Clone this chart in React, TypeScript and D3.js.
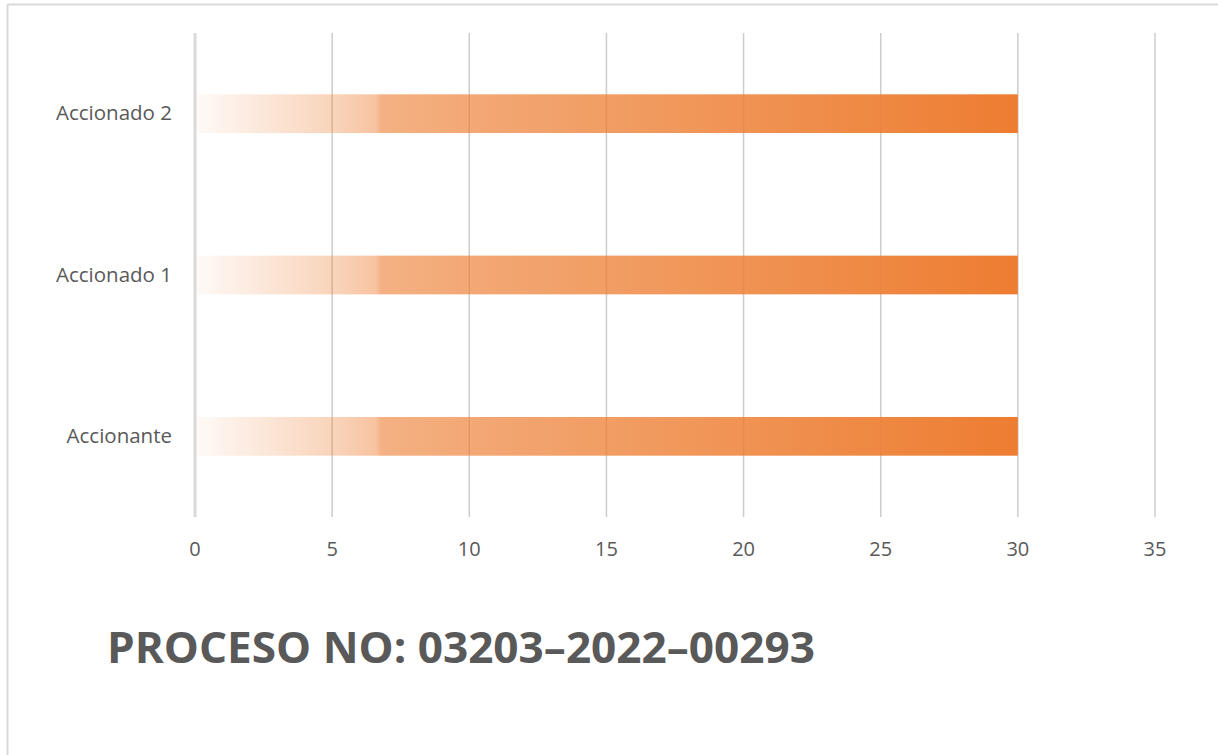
import React from "react";
import * as d3 from "d3";

const categories = ["Accionado 2", "Accionado 1", "Accionante"];
const values = [30, 30, 30];
const xTicks = [0, 5, 10, 15, 20, 25, 30, 35];
const title = "PROCESO NO: 03203–2022–00293";

const W = 1218;
const H = 755;
const plot = { left: 195, right: 1155, top: 33, bottom: 517 };
const ORANGE = "#ED7D31";
const TEXT = "#595959";
const FONT = "'Open Sans', 'Noto Sans', sans-serif";

// fade-in gradient used by every bar
const gradientStops = [
  { offset: 0, opacity: 0.04 },
  { offset: 0.17, opacity: 0.34 },
  { offset: 0.218, opacity: 0.46 },
  { offset: 0.224, opacity: 0.6 },
  { offset: 0.35, opacity: 0.68 },
  { offset: 0.6, opacity: 0.8 },
  { offset: 1, opacity: 1 },
];

export default function App() {
  const x = d3.scaleLinear().domain([0, 35]).range([plot.left, plot.right]);
  const y = d3
    .scaleBand<string>()
    .domain(categories)
    .range([plot.top, plot.bottom])
    .paddingInner(0.76)
    .paddingOuter(0.38);

  return (
    <div style={{ position: "absolute", left: 0, top: 0 }}>
      <svg width={W} height={H} style={{ display: "block", background: "#fff" }}>
        <defs>
          <linearGradient id="barFade" x1="0" x2="1" y1="0" y2="0">
            {gradientStops.map((s, i) => (
              <stop key={i} offset={s.offset} stopColor={ORANGE} stopOpacity={s.opacity} />
            ))}
          </linearGradient>
        </defs>
        {/* outer frame */}
        <line x1={7.5} x2={W} y1={4.5} y2={4.5} stroke="#d9d9d9" strokeWidth={2} />
        <line x1={7.5} x2={7.5} y1={4.5} y2={H} stroke="#d9d9d9" strokeWidth={2} />

        {/* vertical gridlines */}
        {xTicks.map((t) => (
          <line
            key={t}
            x1={x(t)}
            x2={x(t)}
            y1={plot.top}
            y2={plot.bottom}
            stroke={t === 0 ? "#d9d9d9" : "#cccccc"}
            strokeWidth={t === 0 ? 3 : 1.5}
          />
        ))}

        {/* bars */}
        {categories.map((c, i) => (
          <rect
            key={c}
            x={x(0) + 2}
            y={y(c)!}
            width={x(values[i]) - x(0) - 2}
            height={y.bandwidth()}
            fill="url(#barFade)"
          />
        ))}

        {/* category labels */}
        {categories.map((c) => (
          <text
            key={c}
            x={172}
            y={y(c)! + y.bandwidth() / 2 - 1.5}
            textAnchor="end"
            dominantBaseline="central"
            fontFamily={FONT}
            fontSize={20.5}
            fill={TEXT}
          >
            {c}
          </text>
        ))}

        {/* x tick labels */}
        {xTicks.map((t) => (
          <text
            key={t}
            x={x(t)}
            y={548}
            textAnchor="middle"
            dominantBaseline="central"
            fontFamily={FONT}
            fontSize={20}
            fill={TEXT}
          >
            {t}
          </text>
        ))}

        <text
          x={107}
          y={663}
          fontFamily={FONT}
          fontWeight={700}
          fontSize={43}
          fill={TEXT}
          textLength={708}
          lengthAdjust="spacingAndGlyphs"
        >
          {title}
        </text>
      </svg>
    </div>
  );
}
